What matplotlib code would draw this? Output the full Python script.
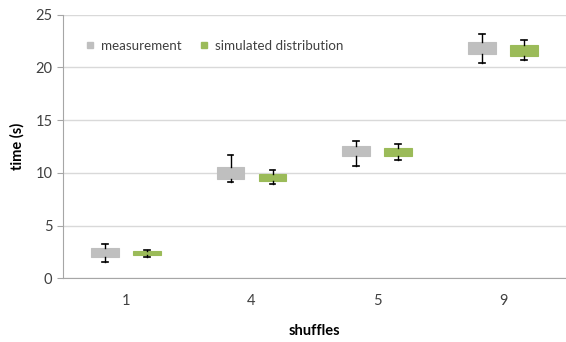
import matplotlib
matplotlib.use("Agg")
import matplotlib.pyplot as plt
from matplotlib.lines import Line2D
import numpy as np

plt.rcParams['font.family'] = ['Lato', 'DejaVu Sans']

categories = ['1', '4', '5', '9']

# measurement: whisker low, box low, box high, whisker high
meas_low = [1.52, 9.16, 10.67, 20.43]
meas_q1 = [1.99, 9.47, 11.58, 21.24]
meas_q3 = [2.84, 10.60, 12.59, 22.41]
meas_high = [3.25, 11.68, 13.00, 23.13]

# simulated distribution
sim_low = [2.05, 8.93, 11.27, 20.67]
sim_q1 = [2.21, 9.21, 11.58, 21.09]
sim_q3 = [2.56, 9.88, 12.34, 22.09]
sim_high = [2.68, 10.23, 12.72, 22.57]

GRAY = '#BFBFBF'
GREEN = '#9BBB59'
GRID = '#D9D9D9'


def make_stats(lo, q1, q3, hi):
    return [dict(whislo=a, q1=b, med=b, q3=c, whishi=d, fliers=[])
            for a, b, c, d in zip(lo, q1, q3, hi)]


fig = plt.figure(figsize=(5.66, 3.42), dpi=100)
ax = fig.add_axes([0.111, 0.186, 0.889, 0.771])

x = np.arange(len(categories))
offset = 0.167
width = 0.222

for stats, pos, color in [
    (make_stats(meas_low, meas_q1, meas_q3, meas_high), x - offset, GRAY),
    (make_stats(sim_low, sim_q1, sim_q3, sim_high), x + offset, GREEN),
]:
    ax.bxp(stats, positions=pos, widths=width, patch_artist=True,
           showfliers=False, capwidths=0.045,
           boxprops=dict(facecolor=color, edgecolor=color, linewidth=0.8, zorder=2),
           whiskerprops=dict(color='black', linewidth=1.0, zorder=3),
           capprops=dict(color='black', linewidth=1.2, zorder=3),
           medianprops=dict(linewidth=0))

ax.set_xlim(-0.5, len(categories) - 0.5)
ax.set_ylim(0, 25)
ax.set_yticks(np.arange(0, 26, 5))
ax.set_xticks(x)
ax.set_xticklabels(categories)

ax.grid(True, axis='y', color=GRID, linewidth=1.0, zorder=0)
ax.set_axisbelow(True)
for s in ['top', 'right']:
    ax.spines[s].set_visible(False)
ax.spines['left'].set_color('#A6A6A6')
ax.spines['bottom'].set_color('#A6A6A6')
ax.tick_params(axis='y', length=4, color='#A6A6A6', labelsize=10.5, labelcolor='#404040')
ax.tick_params(axis='x', length=0, labelsize=10.5, labelcolor='#404040', pad=11)

ax.set_ylabel('time (s)', fontsize=10.5, fontweight='bold', labelpad=8)
ax.set_xlabel('shuffles', fontsize=10.5, fontweight='bold', labelpad=12)

handles = [
    Line2D([], [], marker='s', linestyle='none', markersize=5,
           markerfacecolor=GRAY, markeredgecolor=GRAY, label='measurement'),
    Line2D([], [], marker='s', linestyle='none', markersize=5,
           markerfacecolor=GREEN, markeredgecolor=GREEN, label='simulated distribution'),
]
ax.legend(handles=handles, loc='upper left', bbox_to_anchor=(0.02, 0.95), ncol=2,
          frameon=False, fontsize=9.6, handlelength=0.8, handletextpad=0.4,
          columnspacing=1.3, labelcolor='#404040')

fig.savefig('out.png', dpi=100)
